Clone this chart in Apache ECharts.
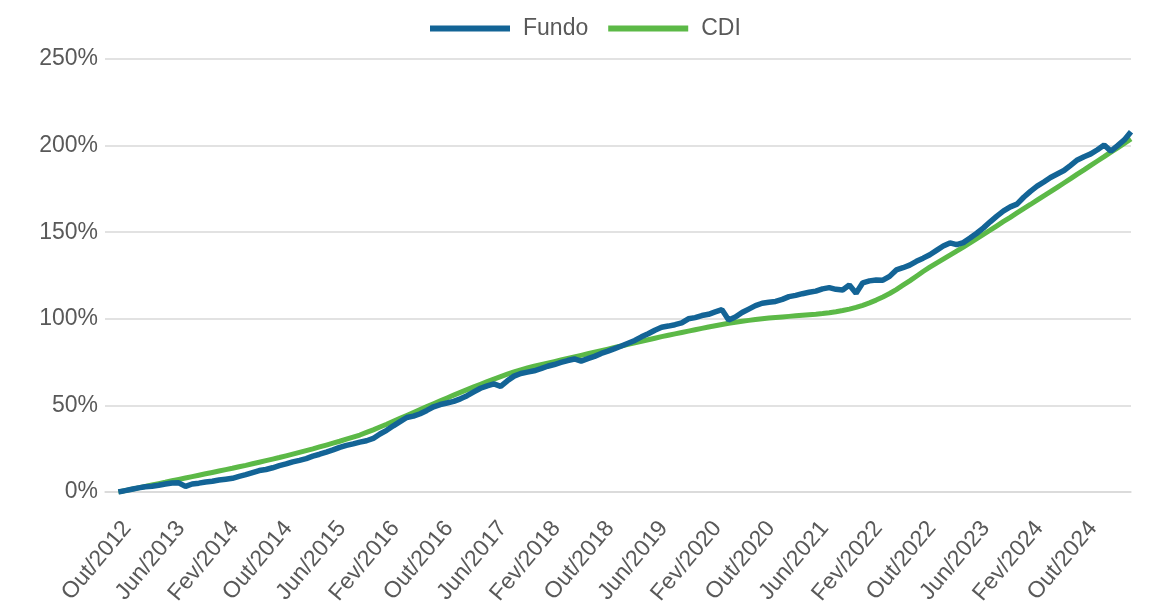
<!DOCTYPE html>
<html>
<head>
<meta charset="utf-8">
<title>Fundo x CDI</title>
<script src="https://cdn.jsdelivr.net/npm/echarts/dist/echarts.min.js"></script>
<style>
  html, body { margin: 0; padding: 0; background: #fff; }
  #chart { width: 1149px; height: 602px; }
</style>
</head>
<body>
<div id="chart"></div>
<script>
// meses em português, série mensal de Out/2012 até Mai/2025
const monthNames = ['Jan', 'Fev', 'Mar', 'Abr', 'Mai', 'Jun', 'Jul', 'Ago', 'Set', 'Out', 'Nov', 'Dez'];
const startMonth = 9;   // Out
const startYear = 2012;
const padCount = 2;     // espaço vazio antes do primeiro ponto

// rentabilidade acumulada do fundo (%)
const fundo = [
  0, 0.8, 1.6, 2.4, 3.0, 3.3, 3.9, 4.6, 5.2, 5.3, 3.2, 4.6,
  5.1, 5.8, 6.2, 6.9, 7.4, 7.9, 9.0, 10.0, 11.2, 12.4, 13.0, 14.0,
  15.2, 16.2, 17.4, 18.3, 19.3, 20.7, 21.8, 23.0, 24.3, 25.8, 26.9, 27.8,
  28.8, 29.6, 30.9, 33.5, 35.6, 38.2, 40.6, 43.0, 43.8, 45.2, 47.1, 49.2,
  50.5, 51.4, 52.3, 53.8, 55.6, 57.8, 59.9, 61.3, 62.4, 61.0, 64.2, 66.9,
  68.4, 69.2, 70.0, 71.2, 72.6, 73.6, 74.8, 75.9, 76.8, 75.6, 77.0, 78.3,
  80.0, 81.3, 82.8, 84.3, 85.9, 87.5, 89.6, 91.4, 93.4, 95.1, 95.8, 96.6,
  97.6, 100.0, 100.7, 101.9, 102.6, 104.0, 105.3, 99.3, 101.0, 103.6, 105.6, 107.6,
  109.0, 109.6, 110.0, 111.2, 112.8, 113.5, 114.5, 115.3, 116.0, 117.3, 118.0, 117.0,
  116.6, 119.5, 114.7, 120.8, 121.9, 122.4, 122.3, 124.5, 128.2, 129.5, 131.0, 133.2,
  135.0, 137.0, 139.5, 142.0, 143.8, 142.8, 144.0, 146.6, 149.4, 152.5, 156.0, 159.3,
  162.3, 164.6, 166.2, 170.2, 173.6, 176.6, 179.0, 181.6, 183.6, 185.6, 188.6, 191.7,
  193.6, 195.2, 197.6, 200.3, 196.8, 200.0, 203.3, 208.0
];

// CDI acumulado (%)
const cdi = [
  0, 0.8, 1.6, 2.4, 3.2, 4.0, 4.8, 5.6, 6.5, 7.3, 8.1, 8.9,
  9.7, 10.5, 11.3, 12.1, 12.9, 13.7, 14.6, 15.4, 16.3, 17.2, 18.1, 19.0,
  19.9, 20.9, 21.9, 22.9, 23.9, 24.9, 26.0, 27.1, 28.2, 29.3, 30.5, 31.7,
  32.9, 34.4, 35.9, 37.5, 39.1, 40.8, 42.5, 44.2, 45.9, 47.6, 49.3, 51.0,
  52.7, 54.3, 55.9, 57.5, 59.1, 60.7, 62.2, 63.7, 65.2, 66.6, 68.0, 69.3,
  70.5, 71.6, 72.6, 73.5, 74.4, 75.3, 76.2, 77.1, 78.0, 78.9, 79.8, 80.7,
  81.6, 82.5, 83.4, 84.3, 85.2, 86.1, 87.0, 87.9, 88.8, 89.7, 90.5, 91.3,
  92.1, 92.9, 93.7, 94.5, 95.3, 96.0, 96.7, 97.4, 98.0, 98.6, 99.1, 99.6,
  100.0, 100.4, 100.8, 101.1, 101.4, 101.7, 102.0, 102.3, 102.6, 103.0, 103.5, 104.1,
  104.8, 105.6, 106.6, 107.8, 109.2, 110.8, 112.6, 114.6, 116.9, 119.4, 121.9, 124.6,
  127.3, 129.8, 132.2, 134.5, 136.8, 139.1, 141.4, 143.8, 146.3, 148.8, 151.2, 153.7,
  156.2, 158.6, 161.1, 163.6, 166.0, 168.5, 171.0, 173.4, 175.9, 178.4, 180.9, 183.5,
  186.0, 188.6, 191.1, 193.6, 196.2, 198.7, 201.3, 203.9
];

const yTicks = [0, 50, 100, 150, 200, 250];

// rótulos do eixo X (Out/2012, Nov/2012, ...)
const categories = [];
for (let i = 0; i < padCount; i++) categories.push('');
for (let i = 0; i < fundo.length; i++) {
  const mi = (startMonth + i) % 12;
  const yr = startYear + Math.floor((startMonth + i) / 12);
  categories.push(monthNames[mi] + '/' + yr);
}
const pad = arr => new Array(padCount).fill(null).concat(arr);

const textColor = '#595959';
const fontFamily = '"Liberation Sans", Arial, sans-serif';

const chart = echarts.init(document.getElementById('chart'));
chart.setOption({
  animation: false,
  textStyle: { fontFamily: fontFamily },
  legend: {
    data: ['Fundo', 'CDI'],
    left: 425,
    top: 12,
    icon: 'rect',
    itemWidth: 80,
    itemHeight: 6,
    itemGap: 20,
    textStyle: { fontSize: 23, color: textColor, padding: [0, 0, 0, 8] }
  },
  grid: { left: 105, right: 18, top: 59, bottom: 110, containLabel: false, outerBoundsMode: 'none' },
  xAxis: {
    type: 'category',
    boundaryGap: false,
    data: categories,
    axisLine: { show: true, lineStyle: { color: '#d9d9d9', width: 1.5 } },
    axisTick: { show: false },
    axisLabel: {
      interval: (idx) => idx >= padCount && (idx - padCount) % 8 === 0,
      rotate: 50,
      margin: 25,
      verticalAlign: 'top',
      fontSize: 23,
      color: textColor
    }
  },
  yAxis: {
    type: 'value',
    min: yTicks[0],
    max: yTicks[yTicks.length - 1],
    interval: 50,
    axisLine: { show: false },
    axisTick: { show: false },
    axisLabel: { fontSize: 23, color: textColor, margin: 7, formatter: '{value}%' },
    splitLine: { lineStyle: { color: '#d9d9d9', width: 1.5 } }
  },
  series: [
    {
      name: 'Fundo',
      type: 'line',
      data: pad(fundo),
      symbol: 'none',
      z: 3,
      lineStyle: { color: '#136496', width: 5.5 },
      itemStyle: { color: '#136496' }
    },
    {
      name: 'CDI',
      type: 'line',
      data: pad(cdi),
      symbol: 'none',
      z: 2,
      lineStyle: { color: '#5cb947', width: 5 },
      itemStyle: { color: '#5cb947' }
    }
  ]
});
</script>
</body>
</html>
